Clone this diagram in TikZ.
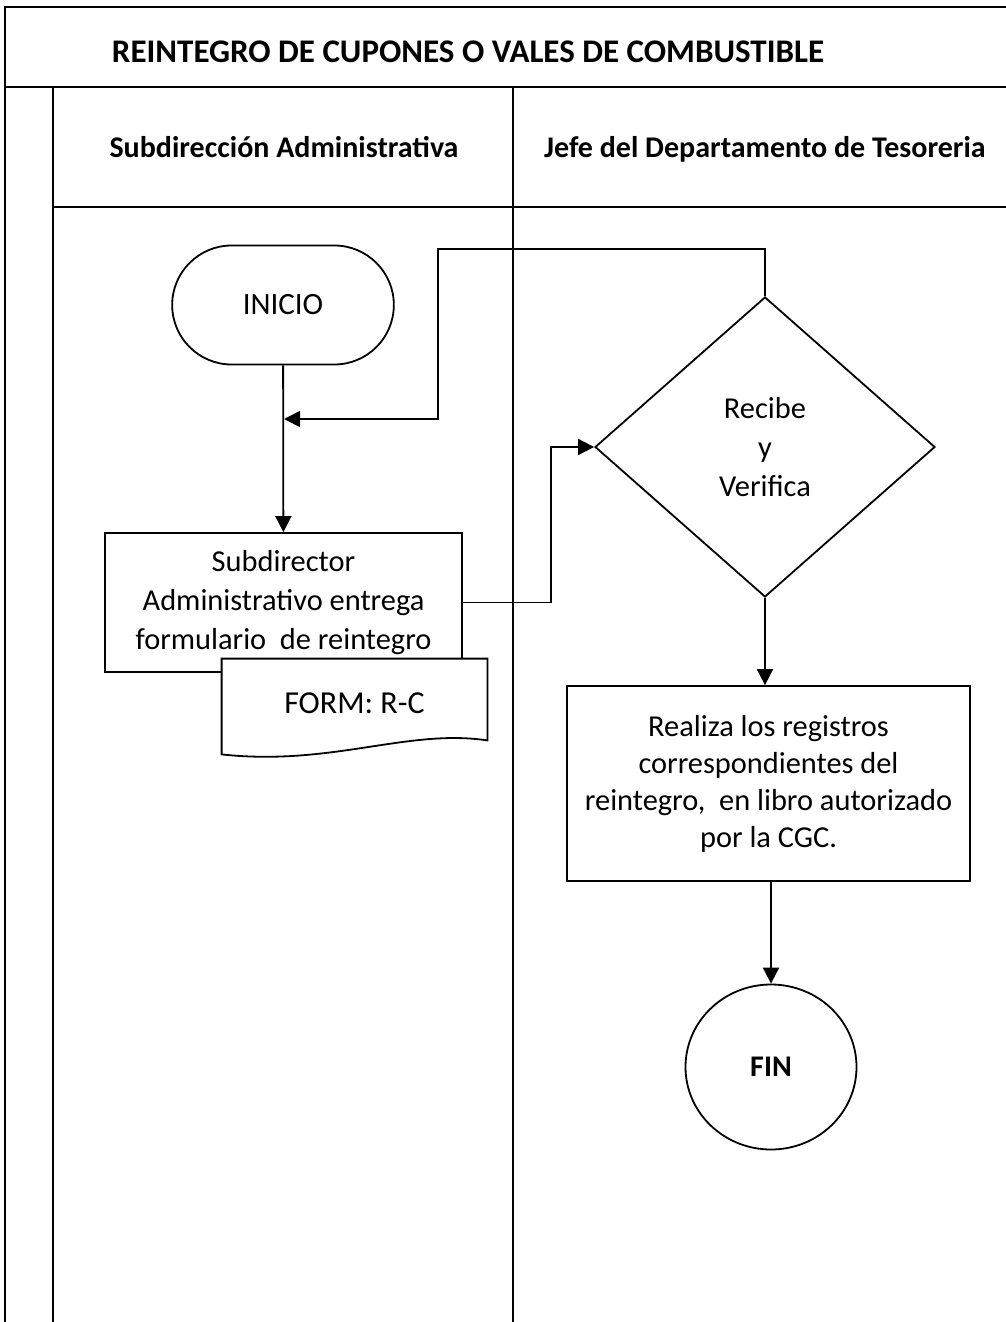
\documentclass[tikz,border=0pt]{standalone}
\usepackage{fontspec}
\setmainfont{Carlito}
\usepackage{tikz}
\usetikzlibrary{arrows.meta,shapes.geometric,shapes.misc,calc}
\tikzset{
    lane/.style={line width=1.2pt},
    flecha/.style={line width=0.9pt,-{Triangle[length=8pt,width=8pt]}},
    linea/.style={line width=0.9pt},
    terminal/.style={rounded rectangle,draw,line width=0.9pt,minimum width=117.5pt,minimum height=59.5pt,font=\fontsize{15.5}{18}\selectfont},
    proceso/.style={rectangle,draw,line width=0.9pt,fill=white,align=center,inner sep=2pt,font=\fontsize{15.2}{19.5}\selectfont},
    decision/.style={diamond,draw,line width=0.9pt,minimum width=170pt,minimum height=150pt,align=center,inner sep=0pt,font=\fontsize{15.2}{19.5}\selectfont},
    finnodo/.style={ellipse,draw,line width=0.9pt,minimum width=85.5pt,minimum height=82.5pt,font=\bfseries\fontsize{15}{18}\selectfont},
    titulo/.style={anchor=base,font=\bfseries\fontsize{15}{18}\selectfont}
}

\begin{document}
\begin{tikzpicture}[x=0.5pt,y=-0.5pt]
    \useasboundingbox (0,0) rectangle (1006,1322);
    % table of lanes
    \draw[lane] (1006,7) -- (5,7) -- (5,1322);
    \draw[lane] (5,87) -- (1006,87);
    \draw[lane] (53,207) -- (1006,207);
    \draw[lane] (53,87) -- (53,1322) (513,87) -- (513,1322);
    \node[titulo,font=\bfseries\fontsize{16.5}{18}\selectfont] (tit) at (468,63) {REINTEGRO DE CUPONES O VALES DE COMBUSTIBLE};
    \node[titulo] (hsub) at (284,157) {Subdirección Administrativa};
    \node[titulo] (hjefe) at (765,157) {Jefe del Departamento de Tesoreria};
    %
    \node[terminal] (inicio) at (283,305) {INICIO};
    \node[proceso,minimum width=178.5pt,minimum height=69.5pt] (sub) at (283.5,602.5)
      {Subdirector\\Administrativo entrega\\formulario\ \ de reintegro};
    % document under the box
    \node[minimum width=132.5pt,minimum height=40.5pt] (form) at (354.5,699.5) {};
    \draw[linea,fill=white] (form.south west) -- (form.north west) -- (form.north east) -- (form.south east)
      .. controls +(-80,-12) and +(110,12) .. ([yshift=-7pt]form.south west) -- cycle;
    \node[font=\fontsize{16}{18}\selectfont] (formtxt) at ([yshift=-2pt]form.center) {FORM: R-C};
    %
    \node[decision] (dec) at (765,447) {Recibe\\y\\Verifica};
    \node[proceso,minimum width=201.5pt,minimum height=97.5pt,font=\fontsize{15.2}{18.5}\selectfont] (reg) at (768.5,783.5)
      {Realiza los registros\\correspondientes del\\reintegro,\ \ en libro autorizado\\por la CGC.};
    \node[finnodo] (fin) at (771,1067) {FIN};
    %
    \coordinate (ret) at (284,419);
    \draw[flecha] (inicio) -- (sub);
    \draw[flecha] (sub.east) -- ++(88,0) |- (dec.west);
    \draw[flecha] (dec.north) -- ++(0,-47) -| (438,419) -- (ret);
    \draw[flecha] (dec.south) -- (dec.south |- reg.north);
    \draw[flecha] (reg.south -| fin.north) -- (fin.north);
\end{tikzpicture}
\end{document}
